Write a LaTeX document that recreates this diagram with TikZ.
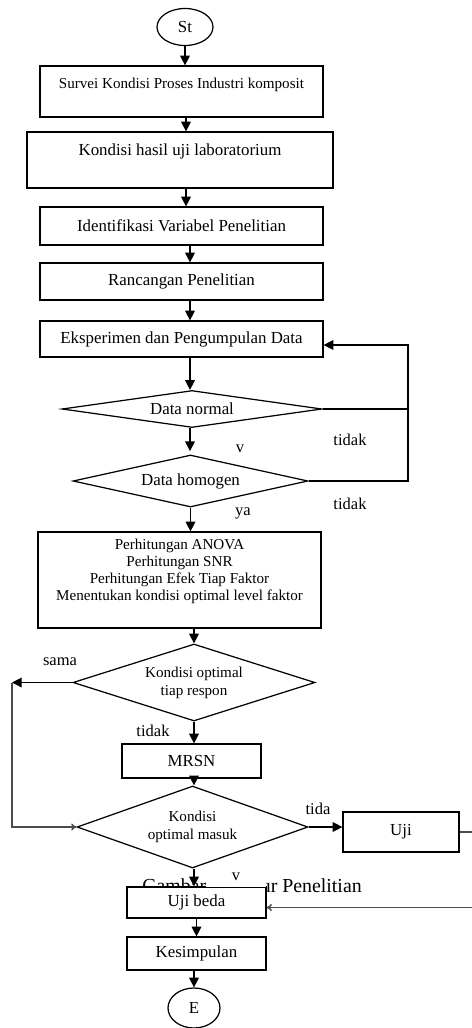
\documentclass[tikz,border=0pt]{standalone}
\usepackage{fontspec}
\setmainfont{Liberation Serif}
\usetikzlibrary{shapes.geometric,arrows.meta}
\tikzset{
  blok/.style={draw, rectangle, inner sep=1pt, align=center, fill=white,
    font=\fontsize{9.6}{11.5}\selectfont},
  blokkecil/.style={blok, font=\fontsize{8.6}{9.8}\selectfont},
  keputusan/.style={draw, diamond, inner sep=0pt, align=center,
    font=\fontsize{9.6}{11}\selectfont},
  terminal/.style={draw, ellipse, inner sep=0pt, font=\fontsize{9.6}{11}\selectfont},
  ket/.style={inner sep=1pt, font=\fontsize{9.4}{11}\selectfont},
  panah/.style={-{Triangle[length=5.5pt,width=5.5pt]}},
  abu/.style={draw=black!70, line width=0.9pt}
}
\begin{document}
\begin{tikzpicture}[x=0.02cm, y=-0.02cm, line width=0.7pt]
  \useasboundingbox (0,0) rectangle (472,1028);
  % columns of the vertical arrows
  \coordinate (c1) at (186,0);
  \coordinate (c2) at (190,0);
  \coordinate (c3) at (194,0);
  % caption, partly hidden by the boxes
  \node[font=\fontsize{11.3}{13}\selectfont, inner sep=0pt] (cap) at (252,886) {Gambar 3.1 Alur Penelitian};
  % main column
  \node[terminal, minimum width=1.12cm, minimum height=0.74cm] (st) at (185,27) {St};
  \node[blokkecil, minimum width=5.66cm, minimum height=1.02cm] (survei) at (181.5,91.5)
    {Survei Kondisi Proses Industri komposit\\ \mbox{}};
  \node[blok, minimum width=6.12cm, minimum height=1.12cm] (lab) at (180,160)
    {Kondisi hasil uji laboratorium\\ \mbox{}};
  \node[blok, minimum width=5.66cm, minimum height=0.76cm] (idv) at (181.5,226) {Identifikasi Variabel Penelitian};
  \node[blok, minimum width=5.66cm, minimum height=0.74cm] (ranc) at (181.5,281.5) {Rancangan Penelitian};
  \node[blok, minimum width=5.66cm, minimum height=0.72cm] (eksp) at (181.5,339) {Eksperimen dan Pengumpulan Data};
  \node[keputusan, aspect=7, minimum width=5.2cm, minimum height=0.74cm] (dnorm) at (192,409) {Data normal};
  \node[keputusan, aspect=4.5, minimum width=4.7cm, minimum height=1.04cm] (dhomo) at (190.5,481) {Data homogen};
  \node[blokkecil, minimum width=5.66cm, minimum height=1.92cm] (hitung) at (179.5,580)
    {Perhitungan ANOVA\\Perhitungan SNR\\Perhitungan Efek Tiap Faktor\\Menentukan kondisi optimal level faktor\\[2pt]};
  \node[keputusan, aspect=3.1, minimum width=4.84cm, minimum height=1.54cm,
    font=\fontsize{8.6}{10.2}\selectfont] (kopt) at (194,682.5) {Kondisi optimal\\tiap respon};
  \node[blok, minimum width=2.78cm, minimum height=0.68cm] (mrsn) at (191.5,761) {MRSN};
  \node[keputusan, aspect=2.8, minimum width=4.62cm, minimum height=1.64cm,
    font=\fontsize{8.6}{10.2}\selectfont] (kmasuk) at (192.5,827) {Kondisi\\optimal masuk};
  \node[blok, minimum width=2.32cm, minimum height=0.8cm] (ujik) at (401,832) {Uji};
  \node[blok, minimum width=2.78cm, minimum height=0.62cm] (ujib) at (196.5,902.5) {Uji beda};
  \node[blok, minimum width=2.78cm, minimum height=0.66cm] (kesim) at (196.5,953.5) {Kesimpulan};
  \node[terminal, minimum width=1.04cm, minimum height=0.8cm] (en) at (194,1008) {E};
  % labels
  \node[ket] (l1) at (350,440) {tidak};
  \node[ket] (l2) at (240,449) {v};
  \node[ket] (l3) at (350,504) {tidak};
  \node[ket] (l4) at (243,513) {ya};
  \node[ket] (l5) at (60,662) {sama};
  \node[ket] (l6) at (153,731) {tidak};
  \node[ket] (l7) at (318,809) {tida};
  \node[ket, fill=white, minimum width=1.2cm, minimum height=0.4cm] (l8) at (236,877) {v};
  % vertical arrows
  \draw[panah] (st) -- (st |- survei.north);
  \draw[panah] (c1 |- survei.south) -- (c1 |- lab.north);
  \draw[panah] (c1 |- lab.south) -- (c1 |- idv.north);
  \draw[panah] (c2 |- idv.south) -- (c2 |- ranc.north);
  \draw[panah] (c2 |- ranc.south) -- (c2 |- eksp.north);
  \draw[panah] (c2 |- eksp.south) -- (c2 |- dnorm.north);
  \draw[panah] (c2 |- dnorm.south) -- ++(0,23);
  \draw[panah] (dhomo.south) -- (dhomo.south |- hitung.north);
  \draw[panah] (c3 |- hitung.south) -- (kopt.north);
  \draw[panah] (kopt.south) -- (kopt.south |- mrsn.north);
  \draw[panah] (c3 |- mrsn.south) -- (c3 |- kmasuk.north);
  \draw[panah] (c3 |- kmasuk.south) -- (c3 |- ujib.north);
  \draw[panah] (kesim.north |- ujib.south) -- (kesim.north);
  \draw[panah] (en.north |- kesim.south) -- (en.north);
  % feedback from the two tests
  \coordinate (fb) at (408,345);
  \draw[panah] (dnorm.east) -| (fb) -- (eksp.east |- fb);
  \draw (dhomo.east) -| (dnorm.east -| fb);
  % loop on the left
  \coordinate (kiri) at (12,682.5);
  \draw[panah] (kopt.west) -- (kiri);
  \draw[abu, -{To[length=3pt,width=4pt]}] (kiri) |- (kmasuk.west);
  % side branch
  \coordinate (kanan) at (490,0);
  \draw[panah] (kmasuk.east) -- (kmasuk.east -| ujik.west);
  \draw[abu, -{To[length=3pt,width=4pt]}] (ujik.east) -- (ujik.east -| kanan) |- ([yshift=-0.1cm]ujib.east);
\end{tikzpicture}
\end{document}
